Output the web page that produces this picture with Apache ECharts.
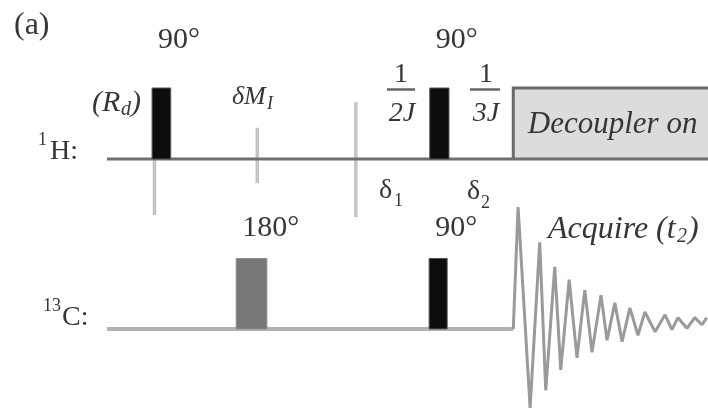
<!DOCTYPE html>
<html>
<head>
<meta charset="utf-8">
<script src="https://cdn.jsdelivr.net/npm/echarts@6/dist/echarts.min.js"></script>
<style>
  html, body { margin: 0; padding: 0; background: #fff; }
  #chart { width: 708px; height: 410px; }
</style>
</head>
<body>
<div id="chart"></div>
<script>
// HETCOR-style pulse sequence: 1H and 13C channels on a shared time axis (0..100).

// Pulses: [start, end, relative height]
const protonPulses = [[7.5, 10.6, 1.0], [53.7, 56.9, 1.0]];
const protonAngles = ['90°', '90°'];
const carbonPulses = [[21.5, 26.6, 1.0], [53.6, 56.6, 1.0]];
const carbonAngles = ['180°', '90°'];

// Broadband decoupling window on 1H: [start, end, height]
const decoupler = [[67.6, 100, 1.0]];

// Timing marks across the 1H line: [time, top, bottom]
const timingMarks = [[7.9, 0, -0.79], [25.0, 0.44, -0.34], [41.4, 0.80, -0.82]];

// Channel baselines: [start, end]
const protonLine = [0, 100];
const carbonLine = [0, 67.6];

// Free induction decay during acquisition
const fidTime = [67.6, 68.4, 70.4, 72.0, 73.0, 74.5, 75.5, 76.9, 78.2, 79.5, 80.7, 82.2, 83.2,
                 84.5, 85.7, 87.0, 88.35, 89.5, 91.2, 92.85, 94.0, 95.0, 96.5, 97.8, 99.0, 99.8];
const fidAmp  = [0, 1.73, -1.12, 1.23, -0.87, 0.88, -0.58, 0.70, -0.41, 0.55, -0.33, 0.48, -0.16,
                 0.37, -0.18, 0.30, -0.09, 0.24, -0.04, 0.20, -0.01, 0.16, 0.01, 0.16, 0.06, 0.16];

const SERIF = '"Liberation Serif", "Times New Roman", serif';
const INK = '#363636';

function pulseRenderer(angles, labelGap) {
  return function (params, api) {
    const p0 = api.coord([api.value(0), 0]);
    const p1 = api.coord([api.value(1), api.value(2)]);
    const angle = angles[params.dataIndex];
    const shaded = angle === '180°';
    return {
      type: 'group',
      children: [
        {
          type: 'rect',
          shape: { x: p0[0], y: p1[1], width: p1[0] - p0[0], height: p0[1] - p1[1] },
          style: { fill: shaded ? '#777' : '#0d0d0d', stroke: shaded ? '#8c8c8c' : '#555', lineWidth: 1 }
        },
        {
          type: 'text',
          style: {
            text: angle, x: p0[0] + 6, y: p1[1] - labelGap,
            font: '30px ' + SERIF, fill: INK,
            align: 'left', verticalAlign: 'middle', textAlign: 'left', textVerticalAlign: 'middle'
          }
        }
      ]
    };
  };
}

function text(str, x, y, size, opts) {
  opts = opts || {};
  const align = opts.align || 'left';
  return {
    type: 'text', x: x, y: y, z: 10,
    style: {
      text: str, font: (opts.italic ? 'italic ' : '') + size + 'px ' + SERIF, fill: INK,
      align: align, verticalAlign: 'middle', textAlign: align, textVerticalAlign: 'middle'
    }
  };
}

function bar(x1, x2, y) {
  return { type: 'line', z: 10, shape: { x1: x1, y1: y, x2: x2, y2: y }, style: { stroke: '#666', lineWidth: 2.5 } };
}

const chart = echarts.init(document.getElementById('chart'), null, { renderer: 'canvas' });

chart.setOption({
  animation: false,
  backgroundColor: '#fff',
  grid: [
    { left: 107, right: 0, top: 52.5, height: 177.5 },
    { left: 107, right: 0, top: 188, height: 222 }
  ],
  xAxis: [
    { type: 'value', gridIndex: 0, min: 0, max: 100, show: false },
    { type: 'value', gridIndex: 1, min: 0, max: 100, show: false }
  ],
  yAxis: [
    { type: 'value', gridIndex: 0, min: -1, max: 1.5, show: false },
    { type: 'value', gridIndex: 1, min: -1.15, max: 2.0, show: false }
  ],
  series: [
    // decoupler window (1H)
    {
      type: 'custom', xAxisIndex: 0, yAxisIndex: 0, z: 1, clip: false,
      data: decoupler,
      renderItem: function (params, api) {
        const p0 = api.coord([api.value(0), 0]);
        const p1 = api.coord([api.value(1), api.value(2)]);
        return {
          type: 'group',
          children: [
            { type: 'rect', shape: { x: p0[0], y: p1[1], width: p1[0] - p0[0], height: p0[1] - p1[1] },
              style: { fill: '#dcdcdc' } },
            { type: 'polyline', shape: { points: [[p0[0], p0[1]], [p0[0], p1[1]], [p1[0], p1[1]]] },
              style: { stroke: '#6a6a6a', lineWidth: 3, fill: null } },
            { type: 'text', style: {
                text: 'Decoupler on', x: (p0[0] + p1[0]) / 2 + 2, y: (p0[1] + p1[1]) / 2 + 1,
                font: 'italic 31px ' + SERIF, fill: INK,
                align: 'center', verticalAlign: 'middle', textAlign: 'center', textVerticalAlign: 'middle' } }
          ]
        };
      }
    },
    // timing marks
    {
      type: 'custom', xAxisIndex: 0, yAxisIndex: 0, z: 2, clip: false,
      data: timingMarks,
      renderItem: function (params, api) {
        const a = api.coord([api.value(0), api.value(1)]);
        const b = api.coord([api.value(0), api.value(2)]);
        return { type: 'line', shape: { x1: a[0], y1: a[1], x2: b[0], y2: b[1] },
                 style: { stroke: '#c4c4c4', lineWidth: 3.5 } };
      }
    },
    // 1H baseline
    {
      type: 'line', xAxisIndex: 0, yAxisIndex: 0, z: 3, symbol: 'none',
      data: [[protonLine[0], 0], [protonLine[1], 0]],
      lineStyle: { color: '#707070', width: 3 }
    },
    // 13C baseline
    {
      type: 'line', xAxisIndex: 1, yAxisIndex: 1, z: 3, symbol: 'none',
      data: [[carbonLine[0], 0], [carbonLine[1], 0]],
      lineStyle: { color: '#b2b2b2', width: 4 }
    },
    // 1H pulses
    {
      type: 'custom', xAxisIndex: 0, yAxisIndex: 0, z: 4, clip: false,
      data: protonPulses, renderItem: pulseRenderer(protonAngles, 48)
    },
    // 13C pulses
    {
      type: 'custom', xAxisIndex: 1, yAxisIndex: 1, z: 4, clip: false,
      data: carbonPulses, renderItem: pulseRenderer(carbonAngles, 30.5)
    },
    // FID
    {
      type: 'line', xAxisIndex: 1, yAxisIndex: 1, z: 4, symbol: 'none',
      data: fidTime.map(function (t, i) { return [t, fidAmp[i]]; }),
      lineStyle: { color: '#9a9a9a', width: 3 }
    }
  ],
  graphic: {
    elements: [
      text('(a)', 14, 26, 32),
      // channel names
      text('1', 38, 140, 18),
      text('H:', 50, 152, 28),
      text('13', 43, 306, 18),
      text('C:', 62, 318, 28),
      // relaxation delay
      text('(R', 92, 103, 30, { italic: true }),
      text('d', 121, 110, 20, { italic: true }),
      text(')', 131, 103, 30, { italic: true }),
      // midpoint of evolution period
      text('δM', 232, 97, 26, { italic: true }),
      text('I', 267, 104, 18, { italic: true }),
      // delays
      text('1', 401, 75, 28, { align: 'center' }),
      bar(387, 415, 89.5),
      text('2J', 402, 114, 28, { align: 'center', italic: true }),
      text('1', 486, 75, 28, { align: 'center' }),
      bar(470, 500, 89.5),
      text('3J', 486, 114, 28, { align: 'center', italic: true }),
      text('δ', 379, 191, 28),
      text('1', 394, 201, 18),
      text('δ', 467, 192, 28),
      text('2', 481, 203, 18),
      // acquisition
      text('Acquire (t', 548, 230, 32, { italic: true }),
      text('2', 677, 237, 20, { italic: true }),
      text(')', 688, 230, 32, { italic: true })
    ]
  }
});
</script>
</body>
</html>
